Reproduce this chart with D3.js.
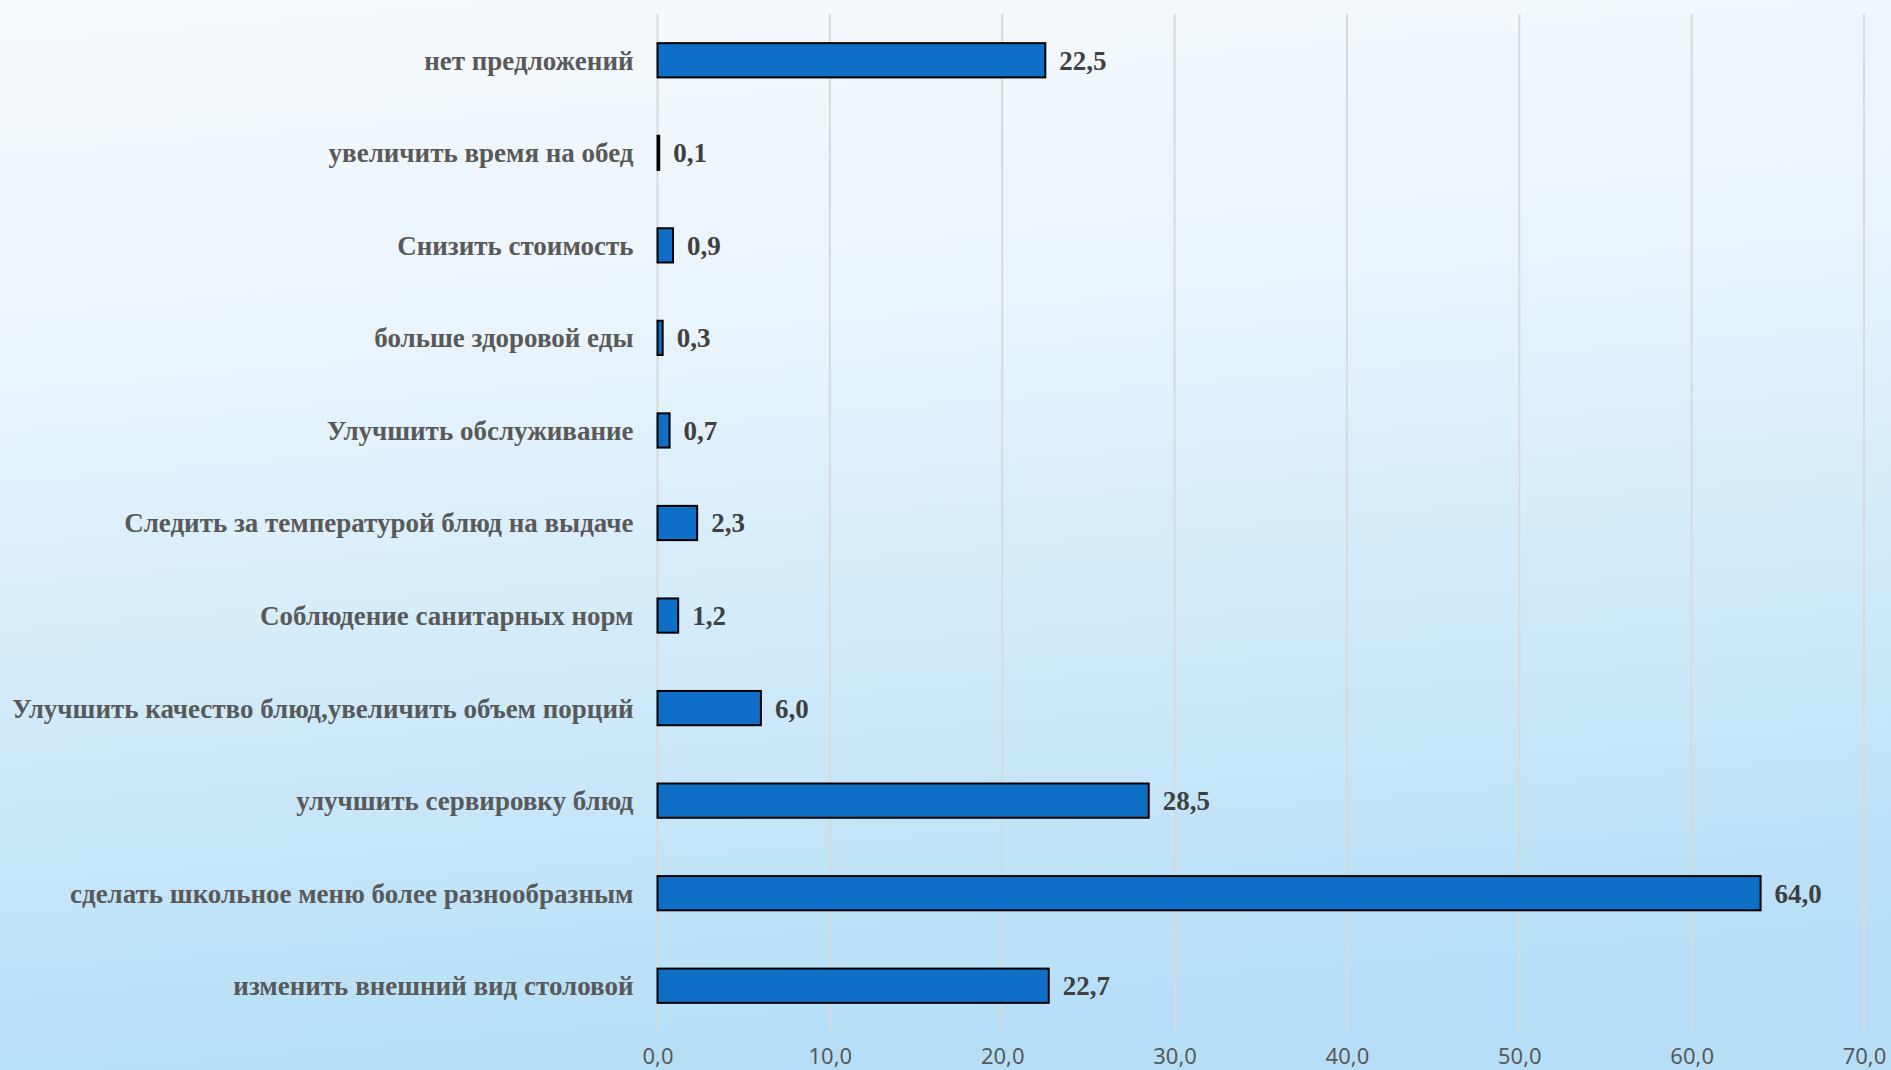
<!DOCTYPE html>
<html><head><meta charset="utf-8">
<script src="https://cdn.jsdelivr.net/npm/d3@7/dist/d3.min.js"></script>
<style>html,body{margin:0;padding:0;overflow:hidden;}svg{display:block;}</style>
</head><body>
<script>
const categories = [
  "нет предложений",
  "увеличить время на обед",
  "Снизить стоимость",
  "больше здоровой еды",
  "Улучшить обслуживание",
  "Следить за температурой блюд на выдаче",
  "Соблюдение санитарных норм",
  "Улучшить качество блюд,увеличить объем порций",
  "улучшить сервировку блюд",
  "сделать школьное меню более разнообразным",
  "изменить внешний вид столовой"
];
const values = [22.5, 0.1, 0.9, 0.3, 0.7, 2.3, 1.2, 6.0, 28.5, 64.0, 22.7];
const tickValues = [0, 10, 20, 30, 40, 50, 60, 70];

const W = 1891, H = 1070;
const svg = d3.select("body").append("svg").attr("width", W).attr("height", H);

const defs = svg.append("defs");
const grad = defs.append("linearGradient").attr("id", "bg")
  .attr("x1", "0").attr("y1", "0").attr("x2", "0.15").attr("y2", "1");
grad.append("stop").attr("offset", "0%").attr("stop-color", "#f6fafd");
grad.append("stop").attr("offset", "35%").attr("stop-color", "#e9f4fb");
grad.append("stop").attr("offset", "100%").attr("stop-color", "#b6dff7");
svg.append("rect").attr("width", W).attr("height", H).attr("fill", "url(#bg)");

const x0 = 657.5, x1 = 1864, yTop = 14, yBot = 1032;
const x = d3.scaleLinear().domain([0, 70]).range([x0, x1]);
const y = d3.scaleBand().domain(categories).range([yTop, yBot]).paddingInner(0.63).paddingOuter(0.315);

// gridlines
svg.append("g").selectAll("line").data(tickValues).join("line")
  .attr("x1", d => x(d)).attr("x2", d => x(d))
  .attr("y1", yTop).attr("y2", yBot)
  .attr("stroke", "#d9d9d9").attr("stroke-width", 2);

// axis labels
const fmt = d => d.toFixed(1).replace(".", ",");
const axis = d3.axisBottom(x).tickValues(tickValues).tickFormat(fmt).tickSize(0).tickPadding(0);
const ag = svg.append("g").attr("transform", `translate(0,${yBot})`).call(axis);
ag.select(".domain").remove();
ag.selectAll("text")
  .attr("y", 32).attr("dy", "0")
  .attr("font-family", "'Noto Sans', sans-serif")
  .attr("font-size", 22).attr("fill", "#595959");

// bars
svg.append("g").selectAll("rect").data(values).join("rect")
  .attr("x", x(0))
  .attr("y", (d, i) => y(categories[i]))
  .attr("width", d => x(d) - x(0))
  .attr("height", y.bandwidth())
  .attr("fill", "#0f6fc6").attr("stroke", "#000").attr("stroke-width", 2);

// value labels
svg.append("g").selectAll("text").data(values).join("text")
  .attr("x", d => x(d) + 14)
  .attr("y", (d, i) => y(categories[i]) + y.bandwidth() / 2)
  .attr("dy", "0.35em")
  .attr("font-family", "'Liberation Serif', 'Times New Roman', serif")
  .attr("font-weight", "bold").attr("font-size", 27).attr("fill", "#404040")
  .text(fmt);

// category labels
svg.append("g").selectAll("text").data(categories).join("text")
  .attr("x", x0 - 24)
  .attr("y", d => y(d) + y.bandwidth() / 2)
  .attr("dy", "0.35em")
  .attr("text-anchor", "end")
  .attr("font-family", "'Liberation Serif', 'Times New Roman', serif")
  .attr("font-weight", "bold").attr("font-size", 27).attr("fill", "#595959")
  .text(d => d);
</script>
</body></html>
